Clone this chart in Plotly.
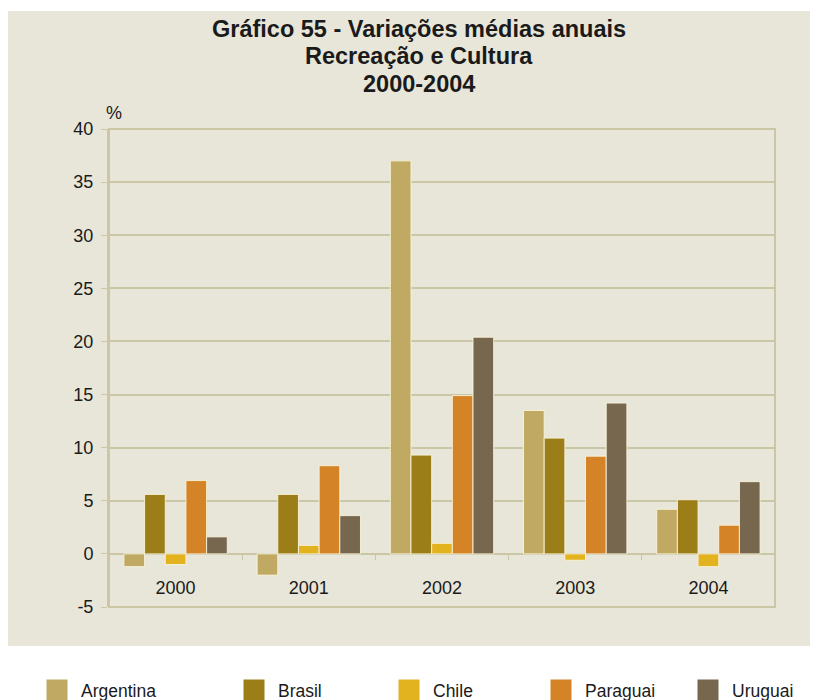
import plotly.graph_objects as go

years = ["2000", "2001", "2002", "2003", "2004"]
argentina = [-1.2, -2.0, 37.0, 13.5, 4.2]
brasil = [5.6, 5.6, 9.3, 10.9, 5.1]
chile = [-1.0, 0.8, 1.0, -0.6, -1.2]
paraguai = [6.9, 8.3, 14.9, 9.2, 2.7]
uruguai = [1.6, 3.6, 20.4, 14.2, 6.8]

y_tick_values = [-5, 0, 5, 10, 15, 20, 25, 30, 35, 40]
y_tick_labels = ["-5", "0", "5", "10", "15", "20", "25", "30", "35", "40"]

title_lines = ["Gráfico 55 - Variações médias anuais", "Recreação e Cultura", "2000-2004"]

series = [
    ("Argentina", argentina, "#bfa963"),
    ("Brasil", brasil, "#9b7e17"),
    ("Chile", chile, "#e3b21f"),
    ("Paraguai", paraguai, "#d48326"),
    ("Uruguai", uruguai, "#76674e"),
]

# page body has an 8px margin: figure pixel = screen pixel - 8
OFF = 8
W, H = 818 - OFF, 700 - OFF
L, R, T, B = 109 - OFF, 818 - 775, 129 - OFF, 700 - 607
pw, ph = W - L - R, H - T - B

def px_x(s):
    return (s - OFF - L) / pw

def px_y(s):
    return (H - B - (s - OFF)) / ph

FONT = "Liberation Sans, Arial, Helvetica, sans-serif"
GRID = "#cac6a6"
BEIGE = "#e8e6d8"
TXT = "#1a1a1a"

legend_left_px = [33, 230, 385, 537, 684]

fig = go.Figure()
for i, (name, vals, col) in enumerate(series):
    lg = "legend" if i == 0 else f"legend{i+1}"
    fig.add_trace(go.Bar(
        x=years, y=vals, name=name, legendgroup=name, showlegend=False,
        marker=dict(color=col, line=dict(color="rgba(250,244,220,0.9)", width=1)),
    ))
    # legend entry (larger square swatch)
    fig.add_trace(go.Scatter(
        x=[None], y=[None], mode="markers", name=name, legendgroup=name,
        legend=lg, hoverinfo="skip",
        marker=dict(symbol="square", size=16, color=col, line=dict(color=col, width=5)),
    ))

layout_legends = {}
for i, lx in enumerate(legend_left_px):
    key = "legend" if i == 0 else f"legend{i+1}"
    layout_legends[key] = dict(
        x=px_x(lx), xanchor="left", y=px_y(690), yanchor="middle",
        bgcolor="rgba(0,0,0,0)", font=dict(family=FONT, size=17.5, color=TXT),
        orientation="h", itemwidth=38, itemsizing="trace",
    )

title_y = [28.5, 56, 84]
annotations = [
    dict(text=f"<b>{t}</b>", xref="paper", yref="paper", x=px_x(419), y=px_y(yy),
         xanchor="center", yanchor="middle", showarrow=False,
         font=dict(family=FONT, size=23.5, color=TXT))
    for t, yy in zip(title_lines, title_y)
]
annotations.append(
    dict(text="%", xref="paper", yref="paper", x=px_x(104), y=px_y(113),
         xanchor="left", yanchor="middle", showarrow=False,
         font=dict(family=FONT, size=18, color=TXT))
)

fig.update_layout(
    width=W, height=H,
    margin=dict(l=L, r=R, t=T, b=B, autoexpand=False),
    paper_bgcolor="white", plot_bgcolor="white",
    barmode="group", bargap=0.224, bargroupgap=0,
    font=dict(family=FONT, size=18, color=TXT),
    xaxis=dict(
        type="category", anchor="free", position=5 / 45,
        showgrid=False, showline=False, zeroline=False,
        ticks="outside", tickson="boundaries", ticklen=5, tickcolor=GRID,
        ticklabelstandoff=21,
        tickfont=dict(family=FONT, size=18, color=TXT),
    ),
    yaxis=dict(
        range=[-5, 40], tickvals=y_tick_values, ticktext=y_tick_labels,
        showgrid=True, gridcolor=GRID, gridwidth=1.5,
        zeroline=True, zerolinecolor=GRID, zerolinewidth=1.5,
        showline=True, linecolor=GRID, linewidth=2,
        ticks="outside", ticklen=6, tickcolor=GRID, ticklabelstandoff=4,
        tickfont=dict(family=FONT, size=18, color=TXT),
    ),
    shapes=[
        dict(type="rect", xref="paper", yref="paper",
             x0=px_x(8), x1=px_x(818), y0=px_y(646), y1=px_y(11),
             fillcolor=BEIGE, line=dict(width=0), layer="below"),
        dict(type="rect", xref="paper", yref="paper",
             x0=0, x1=1, y0=0, y1=1,
             fillcolor="rgba(0,0,0,0)", line=dict(color=GRID, width=2), layer="above"),
    ],
    annotations=annotations,
    **layout_legends,
)

fig.write_html("out.html")
